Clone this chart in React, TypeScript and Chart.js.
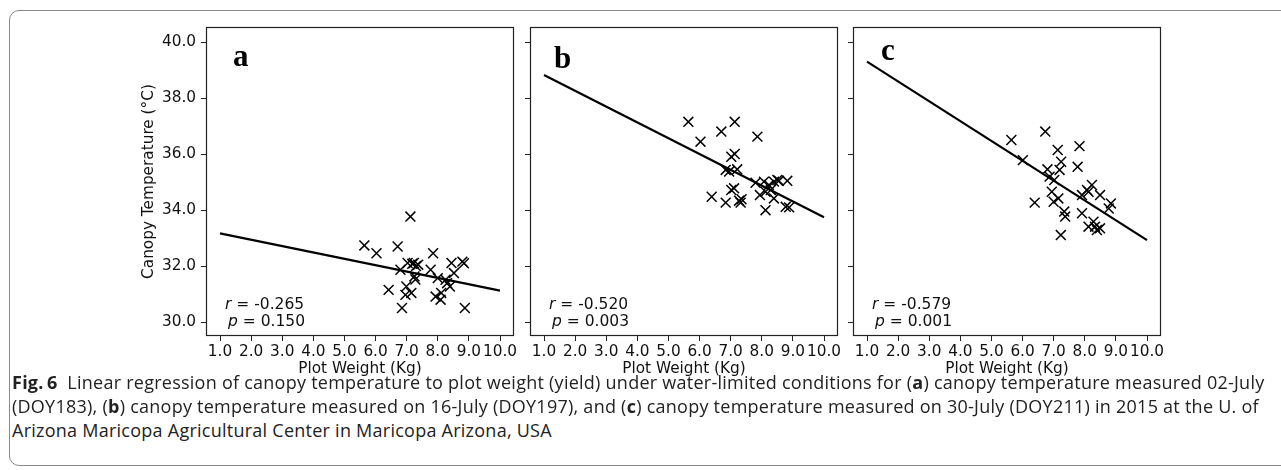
import React, { useEffect, useRef } from 'react';
import { Chart, registerables } from 'chart.js';

Chart.register(...registerables);

// ---------- data ----------
const xTickValues = [1, 2, 3, 4, 5, 6, 7, 8, 9, 10];
const yTickValues = [30, 32, 34, 36, 38, 40];
const fitX = [1, 10];

const weightA = [7.12, 5.64, 6.03, 6.71, 7.85, 6.42, 6.85, 8.87, 6.80, 7.03, 7.18, 7.23, 7.37, 7.25, 7.28, 6.99, 6.96, 7.15, 7.77, 8.00, 7.93, 8.09, 8.11, 8.25, 8.30, 8.39, 8.44, 8.52, 8.79, 8.84, 7.30];
const tempA = [33.77, 32.74, 32.46, 32.70, 32.46, 31.15, 30.50, 30.50, 31.87, 32.11, 32.08, 32.11, 32.05, 31.63, 31.52, 31.27, 30.97, 31.04, 31.87, 31.57, 30.91, 30.80, 31.04, 31.51, 31.39, 31.27, 32.11, 31.75, 32.16, 32.10, 32.00];
const fitA = [33.17, 31.12];

const weightB = [5.64, 7.13, 6.70, 6.03, 7.86, 7.02, 7.13, 6.84, 6.95, 7.21, 7.80, 8.07, 8.23, 8.39, 8.55, 8.82, 8.29, 8.12, 7.94, 8.39, 6.39, 6.84, 7.02, 7.11, 7.27, 7.32, 7.35, 8.12, 8.77, 8.88, 8.50];
const tempB = [37.16, 37.16, 36.81, 36.45, 36.63, 35.91, 36.01, 35.44, 35.38, 35.46, 34.98, 35.02, 34.90, 35.02, 35.05, 35.05, 34.72, 34.66, 34.54, 34.42, 34.48, 34.27, 34.72, 34.78, 34.34, 34.27, 34.39, 34.00, 34.12, 34.10, 35.08];
const fitB = [38.83, 33.75];

const weightC = [6.73, 5.64, 6.01, 7.83, 7.13, 7.24, 7.19, 7.77, 6.80, 6.87, 7.02, 6.94, 7.00, 7.15, 6.39, 7.34, 7.37, 7.23, 7.91, 8.07, 8.23, 8.49, 8.84, 8.77, 7.91, 8.12, 8.28, 8.39, 8.49, 8.33, 8.12];
const tempC = [36.81, 36.51, 35.79, 36.29, 36.15, 35.73, 35.44, 35.55, 35.46, 35.20, 35.08, 34.66, 34.30, 34.42, 34.27, 33.95, 33.77, 33.11, 34.54, 34.72, 34.90, 34.54, 34.24, 34.06, 33.89, 33.41, 33.59, 33.29, 33.35, 33.41, 34.66];
const fitC = [39.31, 32.93];

const panelLetters = ['a', 'b', 'c'];
const rValues = ['-0.265', '-0.520', '-0.579'];
const pValues = ['0.150', '0.003', '0.001'];

// ---------- layout ----------
const AREA_W = 308;
const AREA_TOP = 27;
const AREA_BOTTOM = 336;
const Y_BOX = 67;
const PAD_L = 20;
const CANVAS_W = PAD_L + Y_BOX + AREA_W + 12;
const CANVAS_H = 390;
const areaLefts = [206, 530, 853];

const tickFont = { family: 'DejaVu Sans', size: 15.3 };

const framePlugin = {
  id: 'frame',
  afterDraw(chart: any) {
    const { ctx, chartArea } = chart;
    ctx.save();
    ctx.strokeStyle = '#222';
    ctx.lineWidth = 1.2;
    ctx.strokeRect(
      Math.round(chartArea.left) + 0.5,
      Math.round(chartArea.top) + 0.5,
      Math.round(chartArea.right - chartArea.left) - 1,
      Math.round(chartArea.bottom - chartArea.top) - 1
    );
    ctx.restore();
  },
};

function makeConfig(xs: number[], ys: number[], fit: number[], showY: boolean): any {
  return {
    type: 'scatter',
    data: {
      datasets: [
        {
          data: xs.map((x, i) => ({ x, y: ys[i] })),
          pointStyle: 'crossRot',
          pointRadius: 7,
          pointHoverRadius: 7,
          borderColor: '#000',
          backgroundColor: '#000',
          borderWidth: 1.5,
        },
        {
          data: fitX.map((x, i) => ({ x, y: fit[i] })),
          showLine: true,
          pointRadius: 0,
          borderColor: '#000',
          borderWidth: 2.2,
          fill: false,
        },
      ],
    },
    options: {
      animation: false,
      responsive: false,
      devicePixelRatio: 1,
      layout: { padding: { left: PAD_L, top: AREA_TOP, right: CANVAS_W - PAD_L - Y_BOX - AREA_W, bottom: 0 } },
      plugins: { legend: { display: false }, tooltip: { enabled: false } },
      scales: {
        x: {
          type: 'linear',
          min: 0.55,
          max: 10.45,
          afterBuildTicks: (s: any) => {
            s.ticks = xTickValues.map((v) => ({ value: v }));
          },
          afterFit: (s: any) => {
            s.height = CANVAS_H - AREA_BOTTOM;
          },
          ticks: {
            autoSkip: false,
            maxRotation: 0,
            padding: 2,
            color: '#111',
            font: tickFont,
            callback: (v: any) => Number(v).toFixed(1),
          },
          grid: { display: true, drawOnChartArea: false, drawTicks: true, tickLength: 5, color: '#222' },
          border: { display: false },
          title: {
            display: true,
            text: 'Plot Weight (Kg)',
            color: '#111',
            font: tickFont,
            padding: { top: 0, bottom: 11.5 },
          },
        },
        y: {
          type: 'linear',
          min: 29.5,
          max: 40.55,
          afterBuildTicks: (s: any) => {
            s.ticks = yTickValues.map((v) => ({ value: v }));
          },
          afterFit: (s: any) => {
            s.width = Y_BOX;
          },
          ticks: {
            padding: 5,
            color: '#111',
            font: tickFont,
            callback: (v: any) => (showY ? Number(v).toFixed(1) : ''),
          },
          grid: { display: true, drawOnChartArea: false, drawTicks: true, tickLength: 5, color: '#222' },
          border: { display: false },
          title: {
            display: showY,
            text: 'Canopy Temperature (°C)',
            color: '#111',
            font: tickFont,
            padding: { top: 1, bottom: 0 },
          },
        },
      },
    },
    plugins: [framePlugin],
  };
}

function Panel({ idx, xs, ys, fit }: { idx: number; xs: number[]; ys: number[]; fit: number[] }) {
  const ref = useRef<HTMLCanvasElement>(null);
  useEffect(() => {
    if (!ref.current) return;
    const chart = new Chart(ref.current, makeConfig(xs, ys, fit, idx === 0));
    return () => chart.destroy();
  }, []);
  const areaLeft = areaLefts[idx];
  const canvasLeft = areaLeft - PAD_L - Y_BOX;
  return (
    <>
      <canvas
        ref={ref}
        width={CANVAS_W}
        height={CANVAS_H}
        style={{ position: 'absolute', left: canvasLeft, top: 0, width: CANVAS_W, height: CANVAS_H }}
      />
      <div
        style={{
          position: 'absolute',
          left: areaLeft + [27, 24, 28][idx],
          top: [40, 42, 34][idx],
          fontFamily: '"Liberation Serif", serif',
          fontWeight: 'bold',
          fontSize: 31,
          lineHeight: 1,
          color: '#000',
        }}
      >
        {panelLetters[idx]}
      </div>
      <div
        style={{
          position: 'absolute',
          left: areaLeft + 19,
          top: 296,
          fontFamily: '"DejaVu Sans", sans-serif',
          fontSize: 15.5,
          lineHeight: '16.5px',
          color: '#111',
          whiteSpace: 'pre',
        }}
      >
        <div>
          <i>r</i> = {rValues[idx]}
        </div>
        <div style={{ paddingLeft: 3 }}>
          <i>p</i> = {pValues[idx]}
        </div>
      </div>
    </>
  );
}

export default function App() {
  const capStyle: React.CSSProperties = {
    position: 'absolute',
    left: 12,
    whiteSpace: 'nowrap',
    fontFamily: '"Open Sans", "Noto Sans", sans-serif',
    fontSize: 18,
    letterSpacing: '0.25px',
    lineHeight: '24px',
    color: '#222',
  };
  return (
    <div
      style={{
        position: 'absolute',
        left: 0,
        top: 0,
        width: 1281,
        height: 470,
        overflow: 'hidden',
        background: '#fff',
      }}
    >
      <div
        style={{
          position: 'absolute',
          left: 9,
          top: 10,
          width: 1300,
          height: 456,
          border: '1px solid #8a8a8a',
          borderRadius: '10px 0 0 10px',
          boxSizing: 'border-box',
        }}
      />
      <Panel idx={0} xs={weightA} ys={tempA} fit={fitA} />
      <Panel idx={1} xs={weightB} ys={tempB} fit={fitB} />
      <Panel idx={2} xs={weightC} ys={tempC} fit={fitC} />
      <div style={{ ...capStyle, top: 370 }}>
        <b>Fig.&thinsp;6</b>&nbsp; Linear regression of canopy temperature to plot weight (yield) under water-limited conditions for (<b>a</b>) canopy temperature measured 02-July
      </div>
      <div style={{ ...capStyle, top: 394 }}>
        (DOY183), (<b>b</b>) canopy temperature measured on 16-July (DOY197), and (<b>c</b>) canopy temperature measured on 30-July (DOY211) in 2015 at the U. of
      </div>
      <div style={{ ...capStyle, top: 418 }}>
        Arizona Maricopa Agricultural Center in Maricopa Arizona, USA
      </div>
    </div>
  );
}
